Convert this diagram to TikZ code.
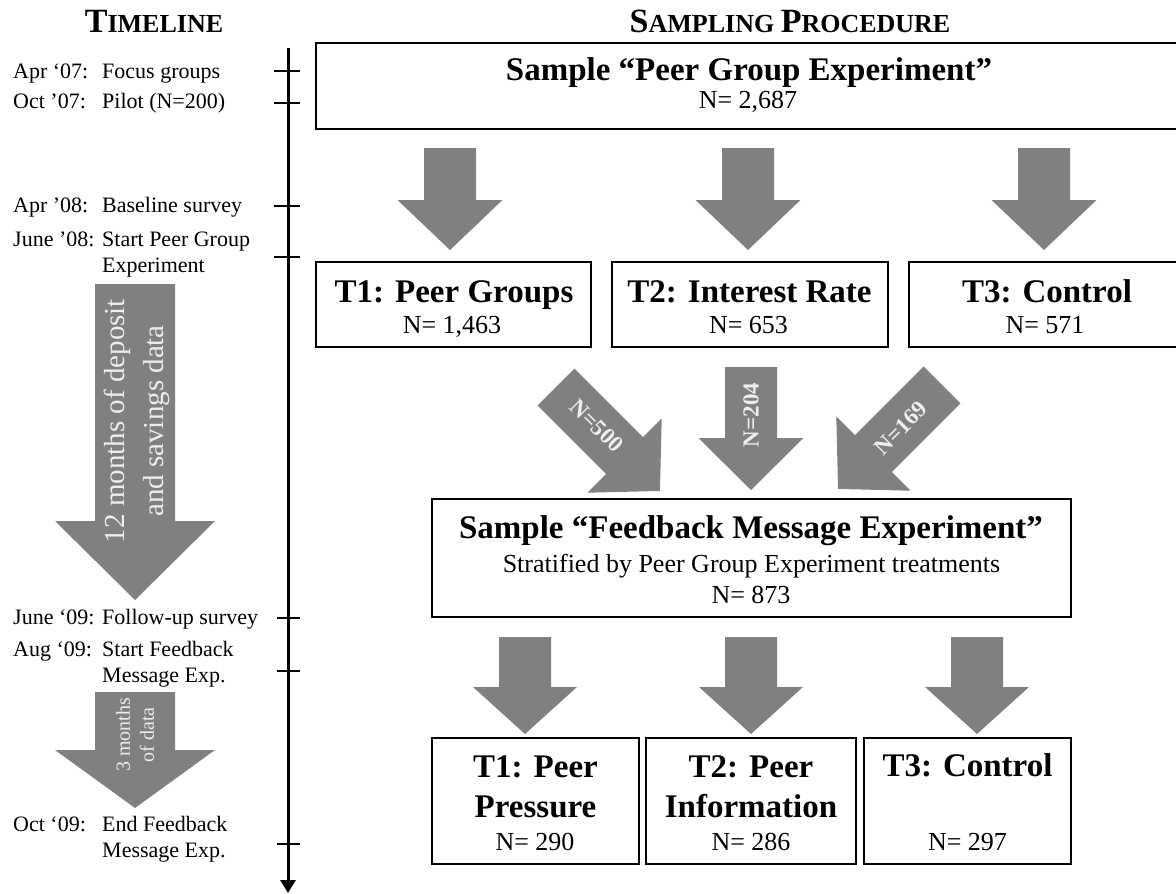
\documentclass[tikz,border=0pt]{standalone}
\usepackage{fontspec}
\setmainfont{Liberation Serif}
\usetikzlibrary{arrows.meta}

\definecolor{arrowgray}{RGB}{128,128,128}
\definecolor{arrowtext}{RGB}{238,238,238}

% heading letters in (faked) small caps
\newcommand{\hdcap}[2]{{\fontsize{34}{34}\selectfont #1}{\fontsize{26}{26}\selectfont #2}}

% block arrow: tail, direction, shaft length, shaft half width, head half width, head length
\newcommand{\blockarrow}[6]{%
  \begin{scope}[shift={#1}, rotate=#2]
    \fill[arrowgray] (0,-#4) -- (#3,-#4) -- (#3,-#5) -- (#3+#6,0) -- (#3,#5) -- (#3,#4) -- (0,#4) -- cycle;
  \end{scope}}

\begin{document}
\begin{tikzpicture}[x=1pt, y=-1pt,
  box/.style={draw, line width=1.6pt, inner sep=0pt},
  boxtitle/.style={font=\fontsize{33}{36}\selectfont\bfseries, inner sep=0pt, anchor=base},
  boxcount/.style={font=\fontsize{26}{30}\selectfont, inner sep=0pt, anchor=base},
  timetext/.style={font=\fontsize{22}{26}\selectfont, inner sep=0pt, anchor=base west},
  arrowlabel/.style={text=arrowtext, inner sep=0pt, align=center},
  tick/.style={line width=2.5pt}]
\useasboundingbox (0,0) rectangle (1176,894);

% Headings
\node[anchor=base, inner sep=0pt, font=\bfseries] (hdtime) at (154,32) {\hdcap{T}{IMELINE}};
\node[anchor=base, inner sep=0pt, font=\bfseries] (hdsample) at (790,32) {\hdcap{S}{AMPLING\ }\hdcap{P}{ROCEDURE}};

% The timeline
\coordinate (axtop) at (288,48);
\coordinate (axend) at (288,893);
\draw[line width=3pt, -{Triangle[width=15pt,length=13pt]}] (axtop) -- (axend);
\foreach \ty/\tx in {71/274, 103/274, 206/274, 257/274, 618/277, 671/277, 844/277}
  \draw[tick] (\tx,\ty) -- (300,\ty);

% Timeline events
\node[timetext] (d1) at (13,78) {Apr ‘07:};
\node[timetext] (e1) at (102,78) {Focus groups};
\node[timetext] (d2) at (13,108) {Oct ’07:};
\node[timetext] (e2) at (102,108) {Pilot (N=200)};
\node[timetext] (d3) at (13,212) {Apr ’08:};
\node[timetext] (e3) at (102,212) {Baseline survey};
\node[timetext] (d4) at (13,246) {June ’08:};
\node[timetext] (e4) at (102,246) {Start Peer Group};
\node[timetext] (e4b) at (102,272) {Experiment};
\node[timetext] (d5) at (13,624) {June ‘09:};
\node[timetext] (e5) at (102,624) {Follow-up survey};
\node[timetext] (d6) at (13,656) {Aug ‘09:};
\node[timetext] (e6) at (102,656) {Start Feedback};
\node[timetext] (e6b) at (102,682) {Message Exp.};
\node[timetext] (d7) at (13,831) {Oct ‘09:};
\node[timetext] (e7) at (102,831) {End Feedback};
\node[timetext] (e7b) at (102,857) {Message Exp.};

% Data periods
\blockarrow{(135,284)}{-90}{237}{40}{80}{79}
\blockarrow{(135,692)}{-90}{58}{40}{80}{58}
\node[arrowlabel, rotate=90, font=\fontsize{29}{39}\selectfont] (months12) at (137,421) {12 months of deposit\\and savings data};
\node[arrowlabel, rotate=90, font=\fontsize{20}{24}\selectfont] (months3) at (135,735) {3 months\\of data};

% Peer group experiment
\node[box, minimum width=864pt, minimum height=86pt] (top) at (748,86) {};
\node[boxtitle] (topt) at (749,80) {Sample “Peer Group Experiment”};
\node[boxcount] (topn) at (748,108) {N= 2,687};

\blockarrow{(450,148)}{-90}{52}{26}{52.5}{50}
\blockarrow{(748,148)}{-90}{52}{26}{52.5}{50}
\blockarrow{(1044,148)}{-90}{52}{26}{52.5}{50}

\node[box, minimum width=275pt, minimum height=85pt] (t1) at (453.5,304.5) {};
\node[boxtitle] (t1t) at (454,302) {T1: Peer Groups};
\node[boxcount] (t1n) at (452,333) {N= 1,463};
\node[box, minimum width=276pt, minimum height=85pt] (t2) at (750,304.5) {};
\node[boxtitle] (t2t) at (749.5,302) {T2: Interest Rate};
\node[boxcount] (t2n) at (748.5,333) {N= 653};
\node[box, minimum width=271pt, minimum height=85pt] (t3) at (1044.5,304.5) {};
\node[boxtitle] (t3t) at (1047,302) {T3: Control};
\node[boxcount] (t3n) at (1045,333) {N= 571};

% Into the feedback sample
\blockarrow{(556,387)}{-45}{97}{26}{52.5}{50}
\blockarrow{(751,367)}{-90}{71}{26}{52.5}{52}
\blockarrow{(942,385)}{-135}{97}{26}{52.5}{50}
\node[arrowlabel, rotate=-45, font=\fontsize{23}{26}\selectfont\bfseries] (n500) at (597,426) {N=500};
\node[arrowlabel, rotate=90, font=\fontsize{23}{26}\selectfont\bfseries] (n204) at (751,415) {N=204};
\node[arrowlabel, rotate=45, font=\fontsize{23}{26}\selectfont\bfseries] (n169) at (901,428) {N=169};

% Feedback message experiment
\node[box, minimum width=639pt, minimum height=118pt] (fb) at (751.5,558) {};
\node[boxtitle] (fbt) at (751,538) {Sample “Feedback Message Experiment”};
\node[boxcount] (fbs) at (751.5,572) {Stratified by Peer Group Experiment treatments};
\node[boxcount] (fbn) at (751,603) {N= 873};

\blockarrow{(525,637)}{-90}{50}{26}{52}{47}
\blockarrow{(751,637)}{-90}{50}{26}{52}{47}
\blockarrow{(977,637)}{-90}{50}{26}{52}{47}

\node[box, minimum width=207pt, minimum height=126pt] (b1) at (535.5,801) {};
\node[boxtitle] (b1t) at (535.5,777) {T1: Peer};
\node[boxtitle] (b1u) at (535.5,817) {Pressure};
\node[boxcount] (b1n) at (535,850) {N= 290};
\node[box, minimum width=210pt, minimum height=126pt] (b2) at (751,801) {};
\node[boxtitle] (b2t) at (751,777) {T2: Peer};
\node[boxtitle] (b2u) at (751,817) {Information};
\node[boxcount] (b2n) at (751,850) {N= 286};
\node[box, minimum width=207pt, minimum height=126pt] (b3) at (967.5,801) {};
\node[boxtitle] (b3t) at (967.5,776) {T3: Control};
\node[boxcount] (b3n) at (967.5,850) {N= 297};

\end{tikzpicture}
\end{document}
